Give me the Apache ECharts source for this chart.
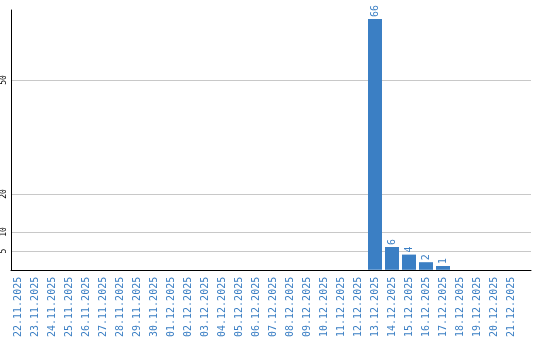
<!DOCTYPE html>
<html><head><meta charset="utf-8">
<script src="https://cdn.jsdelivr.net/npm/echarts@6/dist/echarts.min.js"></script>
<style>html,body{margin:0;padding:0;background:#fff}#c{width:540px;height:340px}</style>
</head><body><div id="c"></div>
<script>
const categories = ['22.11.2025','23.11.2025','24.11.2025','25.11.2025','26.11.2025','27.11.2025','28.11.2025','29.11.2025','30.11.2025','01.12.2025','02.12.2025','03.12.2025','04.12.2025','05.12.2025','06.12.2025','07.12.2025','08.12.2025','09.12.2025','10.12.2025','11.12.2025','12.12.2025','13.12.2025','14.12.2025','15.12.2025','16.12.2025','17.12.2025','18.12.2025','19.12.2025','20.12.2025','21.12.2025'];
const values = [0,0,0,0,0,0,0,0,0,0,0,0,0,0,0,0,0,0,0,0,0,66,6,4,2,1,0,0,0,0];
const yTicks = [5,10,20,50];
const yMax = 68.4;

const blue = '#3b7fc4';
const font = 'DejaVu Sans Mono';
const chart = echarts.init(document.getElementById('c'));
chart.setOption({
  animation: false,
  grid: [
    {left: 10, right: 9, top: 10, bottom: 70},
    {left: 9.5, width: 510, top: 10, bottom: 70}
  ],
  xAxis: [
    {gridIndex: 0, type: 'value', min: 0, max: 1,
     axisLine: {show: true, onZero: false, lineStyle: {color: '#000', width: 1}},
     axisTick: {show: false}, axisLabel: {show: false}, splitLine: {show: false}},
    {gridIndex: 1, type: 'category', data: categories,
     axisLine: {show: false}, axisTick: {show: false}, splitLine: {show: false},
     axisLabel: {interval: 0, rotate: 90, color: blue, fontFamily: font, fontSize: 10, margin: 7}}
  ],
  yAxis: [
    {gridIndex: 0, type: 'value', min: 0, max: yMax,
     axisLine: {show: true, lineStyle: {color: '#000', width: 1}},
     axisTick: {show: false, customValues: yTicks},
     axisLabel: {customValues: yTicks, rotate: 90, color: '#000', fontFamily: font, fontSize: 8, margin: 3},
     splitLine: {show: true, lineStyle: {color: '#c8c8c8', width: 1}}},
    {gridIndex: 1, type: 'value', min: 0, max: yMax, show: false, splitLine: {show: false}}
  ],
  series: [{
    type: 'bar', xAxisIndex: 1, yAxisIndex: 1,
    data: values.map(v => v === 0 ? null : v),
    barWidth: 14,
    itemStyle: {color: blue},
    label: {show: true, position: 'top', rotate: 90, align: 'left', verticalAlign: 'middle',
            distance: 2, color: blue, fontFamily: font, fontSize: 10}
  }]
});
</script></body></html>
